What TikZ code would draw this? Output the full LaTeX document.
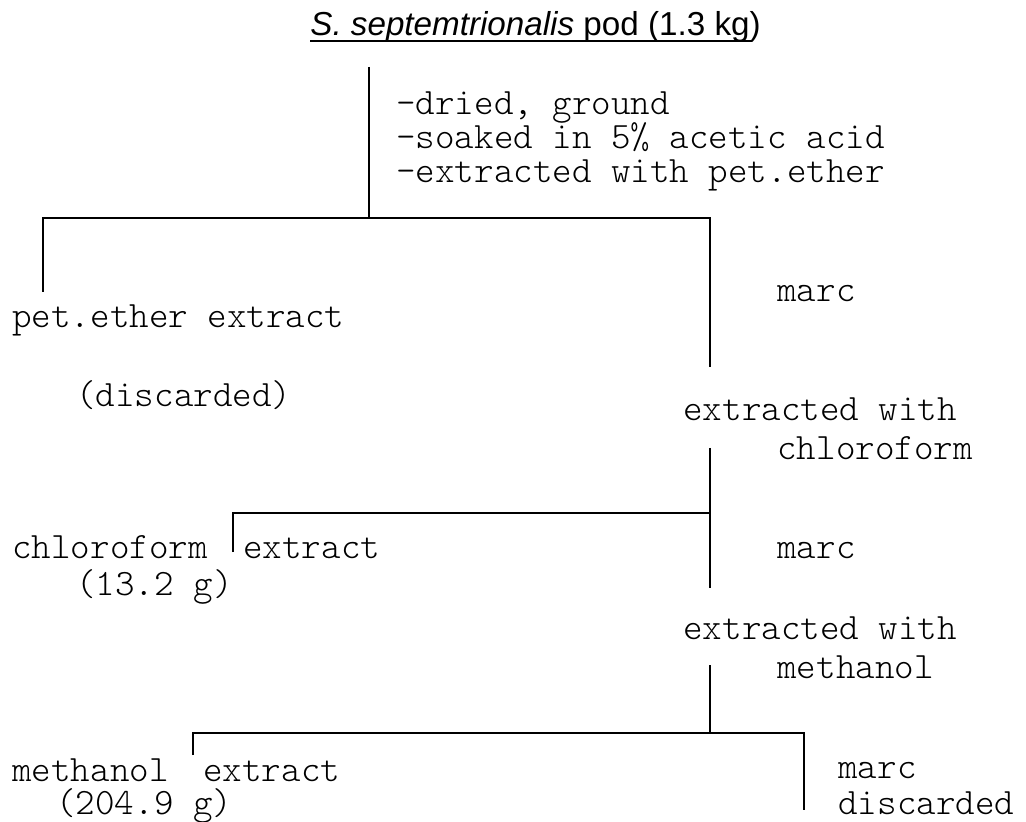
\documentclass[tikz,border=0pt]{standalone}
\usepackage{fontspec}
\usepackage{tikz}
\usetikzlibrary{positioning,calc}
\newfontfamily\titlefont{Liberation Sans}

\begin{document}
\begin{tikzpicture}[x=0.5pt, y=-0.5pt,
    lbl/.style={anchor=base west, inner sep=0pt, font=\fontsize{18.6}{20}\ttfamily\fontseries{l}\selectfont},
    ln/.style={line width=1pt}]
  \useasboundingbox (0,0) rectangle (1026,822);
  % title
  \node[anchor=base west, inner sep=0pt, font=\fontsize{16.6}{18}\titlefont] (title) at (310,36)
    {\textit{S. septemtrionalis} pod (1.3 kg)};
  \draw[line width=0.8pt] ($(title.base west)+(0,5)$) -- ++(442,0);
  % first step
  \node[lbl] (step1) at (396,115) {-dried, ground};
  \node[lbl] (step2) at (396,149) {-soaked in 5\% acetic acid};
  \node[lbl] (step3) at (396,183) {-extracted with pet.ether};
  \coordinate (top0) at (369,67);
  \coordinate (split1) at (369,218);
  \coordinate (left1) at (43,218);
  \coordinate (right1) at (710,218);
  \coordinate (leftend1) at (43,292);
  \coordinate (rightend1) at (710,367);
  \draw[ln] (top0) -- (split1);
  \draw[ln] (leftend1) -- (left1) -- (right1) -- (rightend1);
  % pet.ether side
  \node[lbl] (petext) at (12,328) {pet.ether extract};
  \node[lbl] (petdisc) at (76,407) {(discarded)};
  \node[lbl] (marc1) at (777,302) {marc};
  % chloroform step
  \node[lbl] (chlstep) at (683,421) {extracted with};
  \node[lbl] (chlsolv) at (777,460) {chloroform};
  \coordinate (top2) at (710,448);
  \coordinate (split2) at (710,513);
  \coordinate (left2) at (233,513);
  \coordinate (leftend2) at (233,552);
  \coordinate (rightend2) at (710,588);
  \draw[ln] (top2) -- (split2) -- (rightend2);
  \draw[ln] (leftend2) -- (left2) -- (split2);
  \node[lbl] (chl) at (12,558) {chloroform};
  \node[lbl] (chlext) at (243,558) {extract};
  \node[lbl] (chlmass) at (76,595) {(13.2 g)};
  \node[lbl] (marc2) at (777,558) {marc};
  % methanol step
  \node[lbl] (meohstep) at (683,639) {extracted with};
  \node[lbl] (meohsolv) at (777,678) {methanol};
  \coordinate (top3) at (710,665);
  \coordinate (split3) at (710,733);
  \coordinate (left3) at (193,733);
  \coordinate (right3) at (804,733);
  \coordinate (leftend3) at (193,755);
  \coordinate (rightend3) at (804,810);
  \draw[ln] (top3) -- (split3);
  \draw[ln] (leftend3) -- (left3) -- (right3) -- (rightend3);
  \node[lbl] (meoh) at (12,781) {methanol};
  \node[lbl] (meohext) at (203,781) {extract};
  \node[lbl] (meohmass) at (56,814) {(204.9 g)};
  \node[lbl] (marc3) at (838,778) {marc};
  \node[lbl] (marcdisc) at (838,814) {discarded};
\end{tikzpicture}
\end{document}
